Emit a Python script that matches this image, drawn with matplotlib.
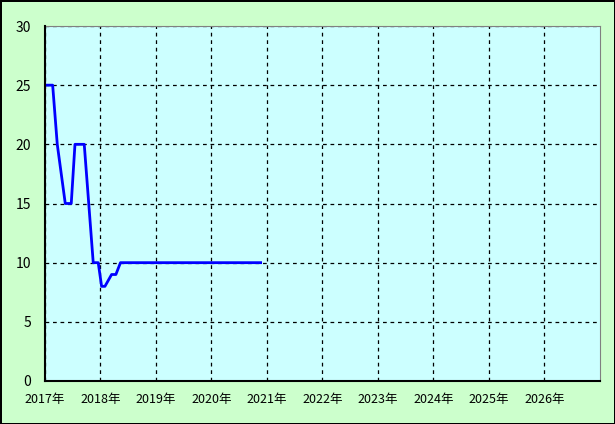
import numpy as np
import matplotlib
matplotlib.use("Agg")
import matplotlib.pyplot as plt

plt.rcParams['font.family'] = ['Noto Sans CJK JP', 'DejaVu Sans']

# decimal years and values
years = [2017.0, 2017.138, 2017.221, 2017.365, 2017.473, 2017.54, 2017.707,
         2017.869, 2017.959, 2018.02, 2018.08, 2018.2, 2018.277, 2018.36, 2020.885]
values = [25, 25, 20, 15, 15, 20, 20, 10, 10, 8, 8, 9, 9, 10, 10]

year_ticks = list(range(2017, 2027))
year_labels = ["%d年" % y for y in year_ticks]
y_ticks = [0, 5, 10, 15, 20, 25, 30]

fig = plt.figure(figsize=(6.15, 4.24), dpi=100)
fig.patch.set_facecolor('#CCFFCC')
fig.patch.set_edgecolor('black')
fig.patch.set_linewidth(2)

ax = fig.add_axes([45/615, 43/424, 555/615, 355/424])
ax.set_facecolor('#CCFFFF')
ax.plot(years, values, color='#0000FF', lw=2, zorder=3)

ax.set_xlim(2017, 2027)
ax.set_ylim(0, 30)
ax.set_xticks(year_ticks)
ax.set_xticklabels(year_labels, fontsize=9)
ax.set_yticks(y_ticks)
ax.set_yticklabels([str(v) for v in y_ticks], fontsize=10)
ax.tick_params(axis='x', length=0, pad=9)
ax.tick_params(axis='y', length=0, pad=10)
ax.set_axisbelow(True)
ax.grid(True, color='black', linestyle=(0, (3, 3)), lw=0.9)

for s in ['top', 'right']:
    ax.spines[s].set_color('#808080')
    ax.spines[s].set_zorder(4)
for s in ['left', 'bottom']:
    ax.spines[s].set_color('black')
    ax.spines[s].set_linewidth(1.5)
    ax.spines[s].set_zorder(5)

fig.savefig('out.png', dpi=100, facecolor=fig.get_facecolor(), edgecolor=fig.get_edgecolor())
